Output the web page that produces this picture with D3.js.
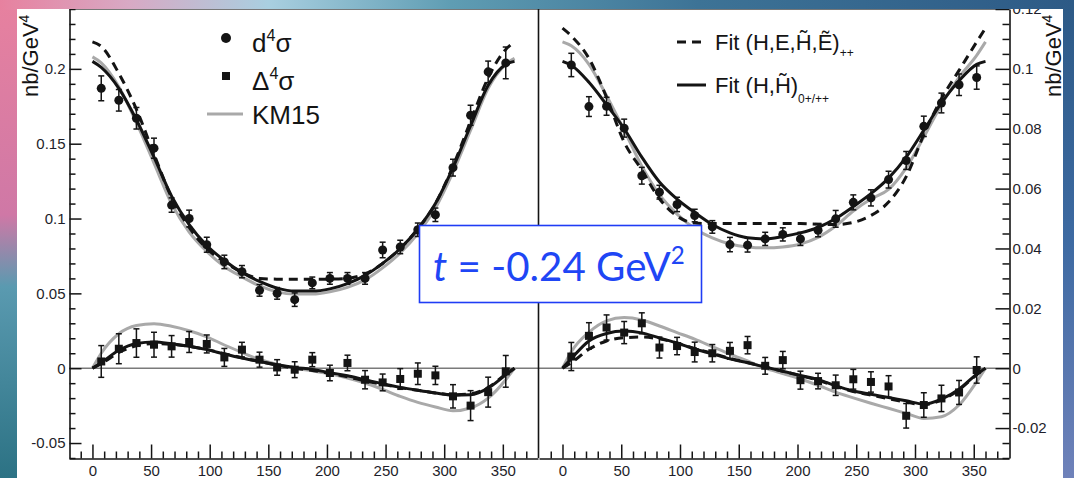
<!DOCTYPE html>
<html><head><meta charset="utf-8">
<script src="https://cdn.jsdelivr.net/npm/d3@7"></script>
<style>html,body{margin:0;padding:0;background:#fff;} svg{display:block;}</style>
</head><body>
<svg id="c" width="1074" height="478"></svg>
<script>
// ---------- DATA ----------
const phiBins = [7.5,22.5,37.5,52.5,67.5,82.5,97.5,112.5,127.5,142.5,157.5,172.5,187.5,202.5,217.5,232.5,247.5,262.5,277.5,292.5,307.5,322.5,337.5,352.5];
// left panel (nb/GeV^4)
const leftSigma    = [0.187,0.179,0.167,0.147,0.109,0.100,0.0825,0.071,0.0645,0.052,0.050,0.0458,0.057,0.060,0.060,0.060,0.079,0.081,0.0925,0.1025,0.134,0.169,0.198,0.204];
const leftSigmaErr = [0.0083,0.0072,0.0072,0.0067,0.0048,0.0056,0.005,0.0045,0.0041,0.0039,0.0039,0.0045,0.0039,0.0039,0.0039,0.0039,0.0052,0.0045,0.0045,0.0045,0.0056,0.0067,0.0072,0.0106];
const leftDelta    = [0.0045,0.013,0.0168,0.0157,0.0146,0.0175,0.0162,0.0072,0.0124,0.0057,0.0005,-0.001,0.0057,-0.0032,0.0035,-0.0077,-0.0095,-0.0072,-0.0037,-0.0048,-0.0188,-0.025,-0.016,-0.0021];
const leftDeltaErr = [0.0106,0.010,0.0095,0.0083,0.0072,0.007,0.006,0.006,0.0049,0.005,0.0052,0.0053,0.0047,0.0052,0.0052,0.0061,0.0056,0.0069,0.0072,0.0061,0.0078,0.010,0.010,0.0106];
// right panel
const rightSigma    = [0.1013,0.0874,0.0875,0.0802,0.0643,0.0588,0.0547,0.051,0.0472,0.0413,0.0411,0.0432,0.0447,0.0432,0.0461,0.0499,0.0554,0.0569,0.063,0.0694,0.0808,0.0886,0.0947,0.0971];
const rightSigmaErr = [0.0039,0.0033,0.003,0.003,0.0028,0.0023,0.0024,0.0021,0.0021,0.0024,0.0023,0.0022,0.0022,0.0022,0.0022,0.0028,0.0025,0.0027,0.0028,0.003,0.0034,0.0033,0.0036,0.0039];
const rightDelta    = [0.0039,0.0108,0.0136,0.0119,0.015,0.0069,0.0074,0.0054,0.005,0.0058,0.0077,0.0008,0.0027,-0.004,-0.0043,-0.0057,-0.0037,-0.0046,-0.0061,-0.0159,-0.0123,-0.0101,-0.0081,-0.0006];
const rightDeltaErr = [0.0047,0.0044,0.0042,0.0037,0.0035,0.0035,0.0029,0.0033,0.0029,0.0028,0.0029,0.0028,0.0029,0.003,0.0026,0.0034,0.0033,0.0034,0.0036,0.0041,0.0041,0.0044,0.004,0.0044];

// curves, sampled at curvePhi
const curvePhi = [0,7.5,22.5,37.5,52.5,67.5,82.5,97.5,112.5,127.5,142.5,157.5,172.5,187.5,202.5,217.5,232.5,247.5,262.5,277.5,292.5,307.5,322.5,337.5,352.5,360];
const leftUpSolid  = [0.205,0.201,0.187,0.166,0.141,0.115,0.096,0.082,0.072,0.064,0.058,0.0535,0.0515,0.0515,0.053,0.0565,0.062,0.070,0.080,0.093,0.110,0.134,0.162,0.189,0.203,0.205];
const leftUpDashed = [0.218,0.215,0.197,0.173,0.143,0.114,0.094,0.080,0.071,0.064,0.060,0.0595,0.0595,0.0595,0.0595,0.060,0.063,0.070,0.080,0.093,0.110,0.135,0.165,0.194,0.213,0.218];
const leftUpKM     = [0.208,0.204,0.188,0.164,0.137,0.110,0.091,0.078,0.068,0.061,0.055,0.051,0.0495,0.0495,0.051,0.054,0.059,0.067,0.077,0.090,0.107,0.131,0.159,0.187,0.203,0.207];
const leftLoSolid  = [0,0.0037,0.012,0.0165,0.0175,0.0163,0.0146,0.0124,0.0095,0.0068,0.0045,0.0023,0.0005,-0.0008,-0.003,-0.005,-0.0077,-0.0104,-0.0128,-0.0148,-0.0166,-0.018,-0.0177,-0.0133,-0.0044,0];
const leftLoDashed = [0,0.003,0.0105,0.015,0.0165,0.016,0.0146,0.0125,0.0097,0.007,0.0045,0.002,0.0,-0.0015,-0.0035,-0.0058,-0.0085,-0.0108,-0.013,-0.0148,-0.0165,-0.0178,-0.0172,-0.0128,-0.004,0];
const leftLoKM     = [0,0.010,0.023,0.0285,0.0297,0.028,0.025,0.021,0.0155,0.0105,0.0058,0.0025,0.0,-0.0018,-0.0038,-0.0065,-0.0099,-0.0142,-0.0188,-0.0228,-0.0259,-0.0285,-0.0266,-0.020,-0.0077,0];
const rightUpSolid  = [0.1025,0.1012,0.0955,0.088,0.080,0.0705,0.0622,0.0565,0.052,0.048,0.0452,0.0436,0.0432,0.044,0.0452,0.047,0.050,0.054,0.0583,0.0635,0.0705,0.0795,0.0886,0.096,0.1015,0.1025];
const rightUpDashed = [0.1136,0.111,0.1035,0.0905,0.0755,0.0662,0.0566,0.0508,0.0485,0.0483,0.0483,0.0483,0.0483,0.0483,0.0483,0.0481,0.048,0.0487,0.051,0.0555,0.064,0.078,0.090,0.0995,0.109,0.1136];
const rightUpKM     = [0.109,0.1077,0.1015,0.091,0.0795,0.0675,0.058,0.0515,0.0467,0.0435,0.0415,0.0405,0.0402,0.0405,0.0415,0.0437,0.0475,0.0525,0.0565,0.0597,0.0669,0.0772,0.088,0.0972,0.1045,0.109];
const rightLoSolid  = [0,0.0032,0.0091,0.0116,0.0124,0.0118,0.0101,0.0084,0.0064,0.0048,0.0031,0.0018,0.0004,-0.001,-0.0024,-0.0038,-0.0059,-0.0076,-0.0087,-0.0098,-0.0109,-0.012,-0.0103,-0.007,-0.002,0];
const rightLoDashed = [0,0.0018,0.0063,0.0091,0.0102,0.0104,0.0098,0.0084,0.0066,0.005,0.0033,0.0019,0.0005,-0.001,-0.0025,-0.004,-0.006,-0.0078,-0.009,-0.0102,-0.0113,-0.0122,-0.0106,-0.0072,-0.0022,0];
const rightLoKM     = [0,0.0055,0.012,0.0158,0.0169,0.0161,0.0141,0.0119,0.0097,0.0072,0.0047,0.0024,0.0,-0.0018,-0.0036,-0.0057,-0.008,-0.0099,-0.0117,-0.0134,-0.0151,-0.0168,-0.0162,-0.0123,-0.0045,0];

// ticks
const xTickValues = [0,50,100,150,200,250,300,350];
const xTickLabels = ["0","50","100","150","200","250","300","350"];
const leftYTicks  = [-0.05,0,0.05,0.1,0.15,0.2];
const leftYLabels = ["-0.05","0","0.05","0.1","0.15","0.2"];
const rightYTicks  = [-0.02,0,0.02,0.04,0.06,0.08,0.1,0.12];
const rightYLabels = ["-0.02","0","0.02","0.04","0.06","0.08","0.1","0.12"];

// ---------- DRAW ----------
const W = 1074, H = 478;
const svg = d3.select("#c");
const defs = svg.append("defs");
function grad(id, x2, y2, stops){
  const lg = defs.append("linearGradient").attr("id", id).attr("x1",0).attr("y1",0).attr("x2",x2).attr("y2",y2);
  stops.forEach(([o,c]) => lg.append("stop").attr("offset",o).attr("stop-color",c));
}
grad("gTop",1,0,[[0,"#e7819f"],[0.12,"#d8a9c4"],[0.25,"#a9cfe0"],[0.42,"#5f9db3"],[0.65,"#3d7396"],[1,"#2d5a86"]]);
grad("gLeft",0,1,[[0,"#e7819f"],[0.45,"#cf78a6"],[0.6,"#5a9ab0"],[1,"#2c7284"]]);
grad("gRight",0,1,[[0,"#2d5a86"],[0.5,"#3d6aa2"],[1,"#6f82ba"]]);
defs.append("clipPath").attr("id","clipW").append("rect").attr("x",17).attr("y",9).attr("width",1046).attr("height",469);

svg.append("rect").attr("x",0).attr("y",0).attr("width",18).attr("height",H).attr("fill","url(#gLeft)");
svg.append("rect").attr("x",1062).attr("y",0).attr("width",12).attr("height",H).attr("fill","url(#gRight)");
svg.append("rect").attr("x",0).attr("y",0).attr("width",W).attr("height",10).attr("fill","url(#gTop)");
svg.append("rect").attr("x",17).attr("y",9).attr("width",1046).attr("height",469).attr("fill","#fff");

const g = svg.append("g").attr("clip-path","url(#clipW)");
const FONT = "'Liberation Sans', Arial, Helvetica, sans-serif";
const INK = "#141414";

const xL = d3.scaleLinear().domain([-20,380]).range([69,538]);
const xR = d3.scaleLinear().domain([-20,380]).range([539,1009]);
const yL = d3.scaleLinear().domain([-0.06,0.24]).range([458,9]);
const yR = d3.scaleLinear().domain([-0.03,0.12]).range([458,9]);

// top border + zero line + middle separator
g.append("line").attr("x1",69).attr("x2",1009).attr("y1",9.5).attr("y2",9.5).attr("stroke","#777").attr("stroke-width",1);
g.append("line").attr("x1",69).attr("x2",1009).attr("y1",yL(0)).attr("y2",yL(0)).attr("stroke","#7a7a7a").attr("stroke-width",1.6);
g.append("line").attr("x1",538.5).attr("x2",538.5).attr("y1",9).attr("y2",458).attr("stroke",INK).attr("stroke-width",1.6);

function styleAxis(sel, fs){
  sel.select(".domain").attr("stroke",INK).attr("stroke-width",1.6);
  sel.selectAll(".tick line").attr("stroke",INK).attr("stroke-width",1.5);
  sel.selectAll(".tick text").attr("fill","#1e1e2a").style("font-family",FONT).style("font-size",fs+"px");
}
const minorX = d3.range(-10, 371, 10).filter(v => v % 50 !== 0);
const minorYL = d3.range(-6, 25, 1).map(v => v/100).filter((v,i) => Math.round(v*100) % 5 !== 0);
const minorYR = d3.range(-30, 121, 5).map(v => v/1000).filter(v => Math.round(v*1000) % 20 !== 0);

// left axis
const aL = g.append("g").attr("transform","translate(69.5,0)")
  .call(d3.axisLeft(yL).tickValues(leftYTicks).tickFormat((d,i)=>leftYLabels[i]).tickSizeInner(-12).tickSizeOuter(0).tickPadding(4));
styleAxis(aL, 15);
const aLm = g.append("g").attr("transform","translate(69.5,0)")
  .call(d3.axisLeft(yL).tickValues(minorYL).tickFormat("").tickSizeInner(-6).tickSizeOuter(0));
aLm.select(".domain").remove(); styleAxis(aLm, 15);

// right axis
const aR = g.append("g").attr("transform","translate(1009.5,0)")
  .call(d3.axisRight(yR).tickValues(rightYTicks).tickFormat((d,i)=>rightYLabels[i]).tickSizeInner(-14).tickSizeOuter(0).tickPadding(3));
styleAxis(aR, 15);
const aRm = g.append("g").attr("transform","translate(1009.5,0)")
  .call(d3.axisRight(yR).tickValues(minorYR).tickFormat("").tickSizeInner(-7).tickSizeOuter(0));
aRm.select(".domain").remove(); styleAxis(aRm, 15);

// bottom axes
[xL, xR].forEach(xs => {
  const a = g.append("g").attr("transform","translate(0,458.5)")
    .call(d3.axisBottom(xs).tickValues(xTickValues).tickFormat((d,i)=>xTickLabels[i]).tickSizeInner(-14).tickSizeOuter(0).tickPadding(7));
  styleAxis(a, 15);
  const m = g.append("g").attr("transform","translate(0,458.5)")
    .call(d3.axisBottom(xs).tickValues(minorX).tickFormat("").tickSizeInner(-7).tickSizeOuter(0));
  m.select(".domain").remove(); styleAxis(m, 15);
});

// curves
function drawCurve(xs, ys, vals, style){
  const line = d3.line().x(d => xs(d[0])).y(d => ys(d[1])).curve(d3.curveMonotoneX);
  const p = g.append("path").datum(curvePhi.map((p,i)=>[p, vals[i]])).attr("d", line)
    .attr("fill","none").attr("stroke-width",3).attr("stroke-linejoin","round");
  if (style === "km") p.attr("stroke","#a9a9a9");
  else if (style === "dash") p.attr("stroke",INK).attr("stroke-dasharray","9,6");
  else p.attr("stroke",INK);
}
function drawPoints(xs, ys, vals, errs, shape){
  const pts = phiBins.map((p,i)=>({p, v:vals[i], e:errs[i]}));
  const eg = g.append("g").attr("stroke",INK).attr("stroke-width",1.5);
  pts.forEach(d => {
    const x = xs(d.p), y1 = ys(d.v - d.e), y2 = ys(d.v + d.e);
    eg.append("line").attr("x1",x).attr("x2",x).attr("y1",y1).attr("y2",y2);
    eg.append("line").attr("x1",x-3).attr("x2",x+3).attr("y1",y1).attr("y2",y1);
    eg.append("line").attr("x1",x-3).attr("x2",x+3).attr("y1",y2).attr("y2",y2);
  });
  if (shape === "circle") {
    g.append("g").selectAll("circle").data(pts).join("circle")
      .attr("cx", d=>xs(d.p)).attr("cy", d=>ys(d.v)).attr("r",4.5).attr("fill",INK);
  } else {
    g.append("g").selectAll("rect").data(pts).join("rect")
      .attr("x", d=>xs(d.p)-4).attr("y", d=>ys(d.v)-4).attr("width",8).attr("height",8).attr("fill",INK);
  }
}
// left panel
drawCurve(xL, yL, leftUpKM, "km"); drawCurve(xL, yL, leftUpDashed, "dash"); drawCurve(xL, yL, leftUpSolid, "solid");
drawCurve(xL, yL, leftLoKM, "km"); drawCurve(xL, yL, leftLoDashed, "dash"); drawCurve(xL, yL, leftLoSolid, "solid");
drawPoints(xL, yL, leftSigma, leftSigmaErr, "circle");
drawPoints(xL, yL, leftDelta, leftDeltaErr, "square");
// right panel
drawCurve(xR, yR, rightUpKM, "km"); drawCurve(xR, yR, rightUpDashed, "dash"); drawCurve(xR, yR, rightUpSolid, "solid");
drawCurve(xR, yR, rightLoKM, "km"); drawCurve(xR, yR, rightLoDashed, "dash"); drawCurve(xR, yR, rightLoSolid, "solid");
drawPoints(xR, yR, rightSigma, rightSigmaErr, "circle");
drawPoints(xR, yR, rightDelta, rightDeltaErr, "square");

// y-axis titles
function yTitle(x, y){
  const t = g.append("text").attr("transform",`translate(${x},${y}) rotate(-90)`)
    .style("font-family",FONT).style("font-size","22px").attr("fill",INK);
  t.append("tspan").text("nb/GeV");
  t.append("tspan").text("4").style("font-size","14px").attr("dy",-9);
}
yTitle(38, 97);
yTitle(1061, 97);

// left legend
const lg = g.append("g");
lg.append("circle").attr("cx",226).attr("cy",38).attr("r",5).attr("fill",INK);
lg.append("rect").attr("x",222).attr("y",72).attr("width",8).attr("height",8).attr("fill",INK);
lg.append("line").attr("x1",207).attr("x2",243).attr("y1",114).attr("y2",114).attr("stroke","#a9a9a9").attr("stroke-width",3);
function supText(x, y, base, sup, after, fs){
  const t = lg.append("text").attr("x",x).attr("y",y).style("font-family",FONT).style("font-size",fs+"px").attr("fill",INK);
  t.append("tspan").text(base);
  t.append("tspan").text(sup).style("font-size",(fs*0.62)+"px").attr("dy",-fs*0.42);
  t.append("tspan").text(after).attr("dy",fs*0.42);
}
supText(252, 52, "d", "4", "σ", 26);
supText(252, 90, "Δ", "4", "σ", 26);
lg.append("text").attr("x",252).attr("y",124).style("font-family",FONT).style("font-size","26px").attr("fill",INK).text("KM15");

// right legend
const rg = g.append("g");
rg.append("line").attr("x1",677).attr("x2",706).attr("y1",42).attr("y2",42).attr("stroke",INK).attr("stroke-width",3).attr("stroke-dasharray","9,6");
rg.append("line").attr("x1",677).attr("x2",706).attr("y1",85).attr("y2",85).attr("stroke",INK).attr("stroke-width",3);
function subText(x, y, base, sub, fs, dy){
  const t = rg.append("text").attr("x",x).attr("y",y).style("font-family",FONT).style("font-size",fs+"px").attr("fill",INK);
  t.append("tspan").text(base);
  t.append("tspan").text(sub).style("font-size","12px").attr("dy",dy);
}
subText(715, 50, "Fit (H,E,H\u0303,E\u0303)", "++", 22, 7);
subText(715, 93, "Fit (H,H\u0303)", "0+/++", 22, 10);

// t label box
const box = svg.append("g");
box.append("rect").attr("x",419.5).attr("y",225.5).attr("width",282).attr("height",77)
  .attr("fill","#fff").attr("stroke","#1f3df5").attr("stroke-width",1.6);
const tt = box.append("text").attr("x",433).attr("y",281).style("font-family","Lato, 'Open Sans', sans-serif")
  .style("font-size","36px").attr("fill","#1f46f5");
tt.append("tspan").text("t").style("font-style","italic");
tt.append("tspan").text(" = -0.24 GeV");
tt.append("tspan").text("2").style("font-size","22px").attr("dy",-15);
const wMeasured = tt.node().getComputedTextLength();
const fsNew = 36 * 252 / wMeasured;
tt.style("font-size", fsNew+"px");
tt.select("tspan:nth-child(3)").style("font-size",(fsNew*0.6)+"px").attr("dy",-fsNew*0.42);
</script>
</body></html>
